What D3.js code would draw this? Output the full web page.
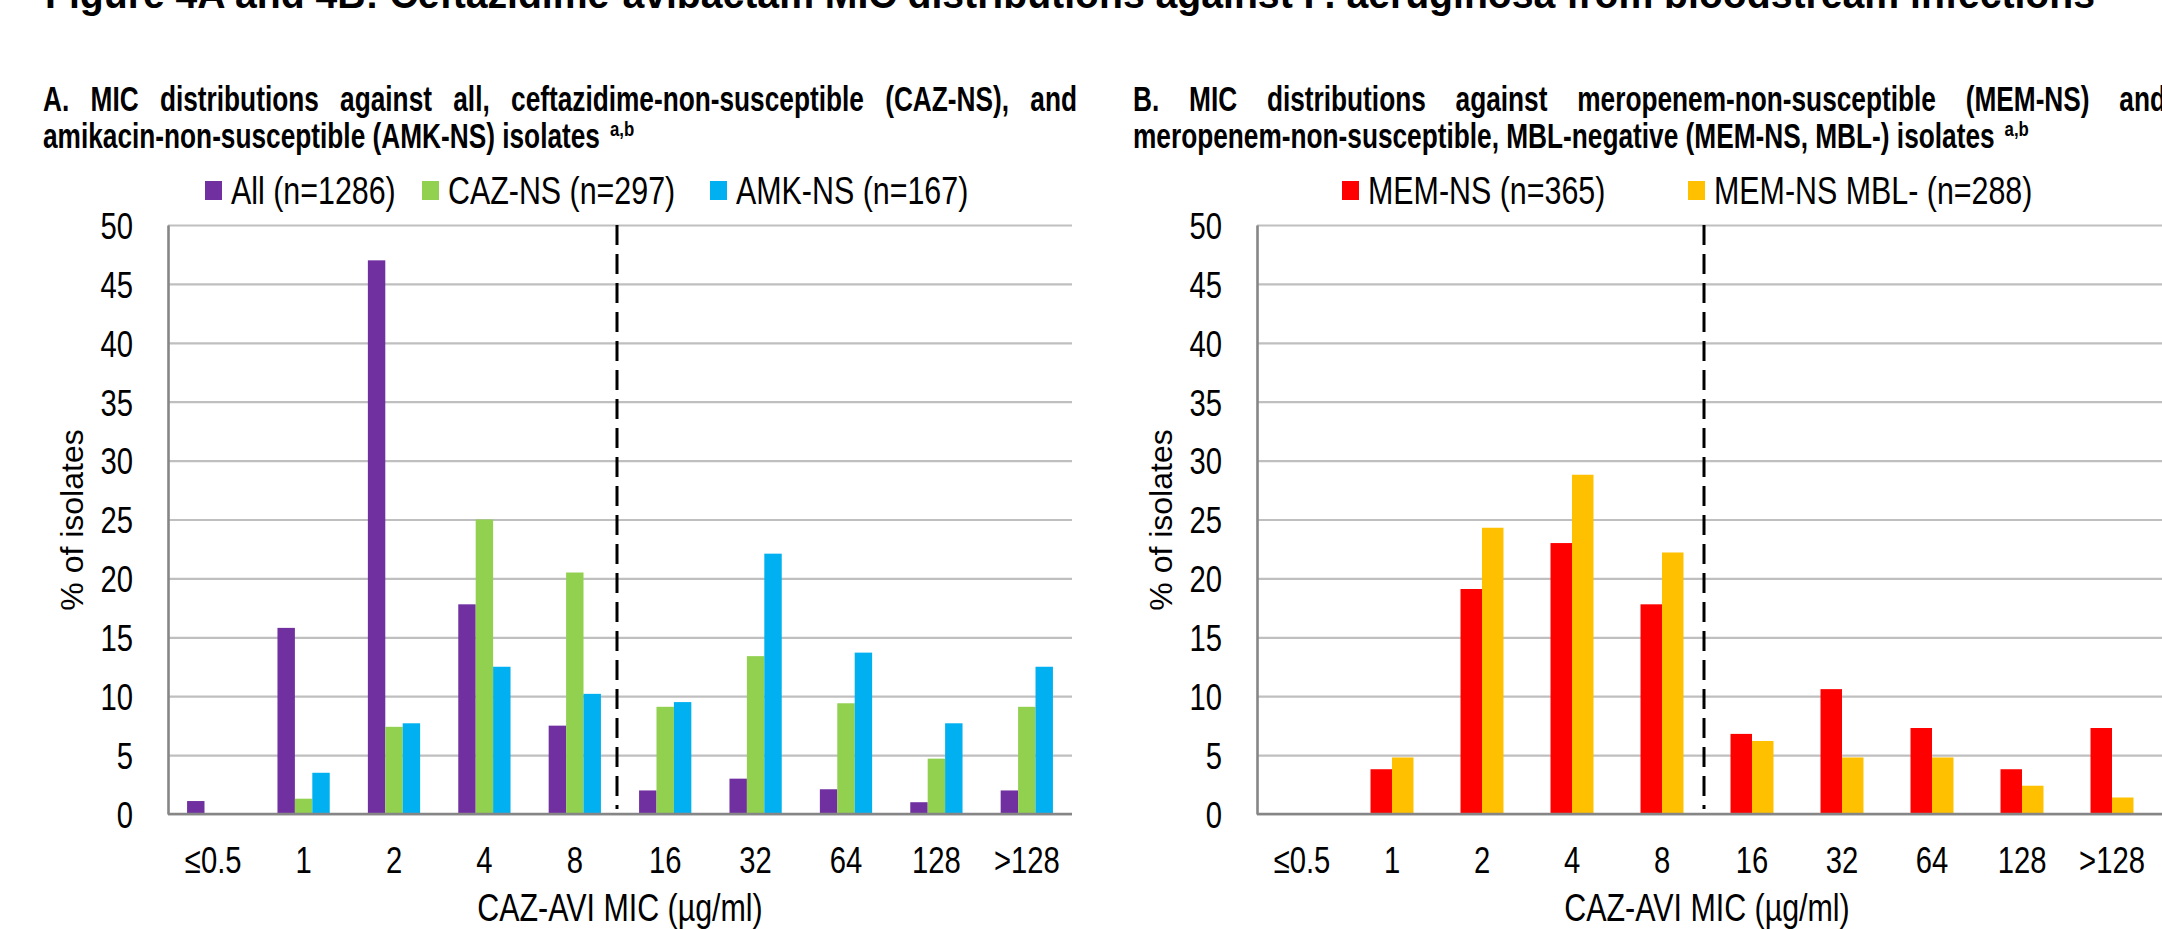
<!DOCTYPE html>
<html>
<head>
<meta charset="utf-8">
<script src="https://cdn.jsdelivr.net/npm/d3@7"></script>
<style>
  html, body { margin: 0; padding: 0; background: #fff; overflow: hidden; }
  svg { display: block; }
</style>
</head>
<body>
<div id="chart"></div>
<script>
// MIC categories (CAZ-AVI, µg/ml)
var categories = ["≤0.5", "1", "2", "4", "8", "16", "32", "64", "128", ">128"];
var yTicks = [0, 5, 10, 15, 20, 25, 30, 35, 40, 45, 50];

// panel A, % of isolates
var allIsolates = [1.1, 15.8, 47.0, 17.8, 7.5, 2.0, 3.0, 2.1, 1.0, 2.0];
var cazNS = [0, 1.3, 7.4, 25.0, 20.5, 9.1, 13.4, 9.4, 4.7, 9.1];
var amkNS = [0, 3.5, 7.7, 12.5, 10.2, 9.5, 22.1, 13.7, 7.7, 12.5];

// panel B, % of isolates
var memNS = [0, 3.8, 19.1, 23.0, 17.8, 6.8, 10.6, 7.3, 3.8, 7.3];
var memNSmblNeg = [0, 4.8, 24.3, 28.8, 22.2, 6.2, 4.8, 4.8, 2.4, 1.4];

var seriesA = ["All (n=1286)", "CAZ-NS (n=297)", "AMK-NS (n=167)"];
var seriesB = ["MEM-NS (n=365)", "MEM-NS MBL- (n=288)"];

var W = 2162, H = 929;
var FONT = "'Liberation Sans', Arial, sans-serif";

var svg = d3.select("#chart").append("svg")
  .attr("width", W)
  .attr("height", H);

// condensed text (arial narrow look), sx = horizontal squeeze
function ntext(g, x, y, str, size, sx, weight, anchor) {
  var t = g.append("text")
    .attr("transform", "translate(" + x + "," + y + ") scale(" + sx + ",1)")
    .attr("text-anchor", anchor || "start")
    .style("font-family", FONT)
    .style("font-size", size + "px")
    .style("font-weight", weight || "normal")
    .style("fill", "#000")
    .text(str);
  t.datum({sx: sx});
  return t;
}
function width(t) { return t.node().getComputedTextLength() * t.datum().sx; }

// spread words from x0 to x1 (justified line)
function justify(g, x0, x1, y, str, size, sx) {
  var words = str.split(" ");
  var nodes = words.map(function(w) { return ntext(g, 0, y, w, size, sx, "bold"); });
  var total = d3.sum(nodes, width);
  var gap = (x1 - x0 - total) / (words.length - 1);
  var x = x0;
  nodes.forEach(function(t) {
    t.attr("transform", "translate(" + x + "," + y + ") scale(" + sx + ",1)");
    x += width(t) + gap;
  });
}

// figure title, only its lower part is on the page
svg.append("text")
  .attr("x", 45).attr("y", 8)
  .attr("textLength", 2050)
  .attr("lengthAdjust", "spacingAndGlyphs")
  .style("font-family", FONT)
  .style("font-size", "40px")
  .style("font-weight", "bold")
  .text("Figure 4A and 4B: Ceftazidime-avibactam MIC distributions against P. aeruginosa from bloodstream infections");

function drawPanel(opt) {
  var g = svg.append("g");
  var x = d3.scaleBand().domain(categories).range([opt.x0, opt.x1]);
  var y = d3.scaleLinear().domain([0, 50]).range([814, 225]);
  var n = opt.series.length;
  var barW = x.bandwidth() / (n + 2.19);
  var xs = d3.scaleBand().domain(d3.range(n))
    .range([(x.bandwidth() - barW * n) / 2, (x.bandwidth() + barW * n) / 2]);

  // grid
  g.append("g")
    .attr("transform", "translate(" + opt.x0 + ",0)")
    .call(d3.axisLeft(y).tickValues(yTicks).tickSize(-(opt.gridEnd - opt.x0)).tickFormat(""))
    .call(function(a) {
      a.select(".domain").remove();
      a.selectAll("line").attr("stroke", "#bfbfbf").attr("stroke-width", 2.2);
    });

  // bars
  opt.series.forEach(function(vals, si) {
    g.append("g").selectAll("rect")
      .data(vals)
      .enter().append("rect")
      .attr("x", function(d, i) { return x(categories[i]) + xs(si); })
      .attr("y", function(d) { return y(d); })
      .attr("width", xs.bandwidth())
      .attr("height", function(d) { return y(0) - y(d); })
      .attr("fill", opt.colors[si]);
  });

  // breakpoint line between 8 and 16
  var bx = x("16") - 3;
  g.append("line")
    .attr("x1", bx).attr("x2", bx)
    .attr("y1", y(50)).attr("y2", 809)
    .attr("stroke", "#000")
    .attr("stroke-width", 3)
    .attr("stroke-dasharray", "20,9");

  // y axis
  var ya = g.append("g")
    .attr("transform", "translate(" + opt.x0 + ",0)")
    .call(d3.axisLeft(y).tickValues(yTicks).tickSize(0).tickSizeOuter(0));
  ya.select(".domain").attr("stroke", "#868686").attr("stroke-width", 2.6);
  ya.selectAll("text")
    .attr("x", 0).attr("dy", "0.36em")
    .attr("transform", "translate(-35,0) scale(0.79,1)")
    .style("font-family", FONT).style("font-size", "37px").style("fill", "#000");

  // x axis
  var xa = g.append("g")
    .attr("transform", "translate(0,814)")
    .call(d3.axisBottom(x).tickSize(0).tickSizeOuter(0));
  xa.select(".domain").remove();
  xa.append("line")
    .attr("x1", opt.x0).attr("x2", opt.gridEnd)
    .attr("stroke", "#868686").attr("stroke-width", 2.6);
  xa.selectAll(".tick text")
    .attr("y", 0).attr("dy", 0)
    .attr("transform", "translate(0,59) scale(0.79,1)")
    .style("font-family", FONT).style("font-size", "37px").style("fill", "#000");

  // axis titles
  ntext(g, (opt.x0 + opt.x1) / 2, 921, "CAZ-AVI MIC (µg/ml)", 38, 0.8, "normal", "middle");
  g.append("text")
    .attr("transform", "translate(" + (opt.x0 - 85) + ",520) rotate(-90)")
    .attr("text-anchor", "middle")
    .style("font-family", FONT)
    .style("font-size", "32px")
    .text("% of isolates");

  // panel title
  justify(g, opt.tx0, opt.tx1, 111, opt.title1, 35, 0.75);
  var t2 = ntext(g, opt.tx0, 148, opt.title2, 35, 0.75, "bold");
  ntext(g, opt.tx0 + width(t2) + 10, 136, "a,b", 21, 0.8, "bold");

  // legend
  opt.legendX.forEach(function(lx, i) {
    g.append("rect")
      .attr("x", lx).attr("y", 181)
      .attr("width", 17).attr("height", 19)
      .attr("fill", opt.colors[i]);
    ntext(g, lx + 26, 204, opt.names[i], 38, 0.8);
  });
}

drawPanel({
  x0: 168, x1: 1072, gridEnd: 1072,
  series: [allIsolates, cazNS, amkNS],
  names: seriesA,
  colors: ["#7030a0", "#92d050", "#00b0f0"],
  legendX: [205, 422, 710],
  tx0: 43, tx1: 1077,
  title1: "A. MIC distributions against all, ceftazidime-non-susceptible (CAZ-NS), and",
  title2: "amikacin-non-susceptible (AMK-NS) isolates"
});

drawPanel({
  x0: 1257, x1: 2157, gridEnd: 2162,
  series: [memNS, memNSmblNeg],
  names: seriesB,
  colors: ["#ff0000", "#ffc000"],
  legendX: [1342, 1688],
  tx0: 1133, tx1: 2166,
  title1: "B. MIC distributions against meropenem-non-susceptible (MEM-NS) and",
  title2: "meropenem-non-susceptible, MBL-negative (MEM-NS, MBL-) isolates"
});
</script>
</body>
</html>
